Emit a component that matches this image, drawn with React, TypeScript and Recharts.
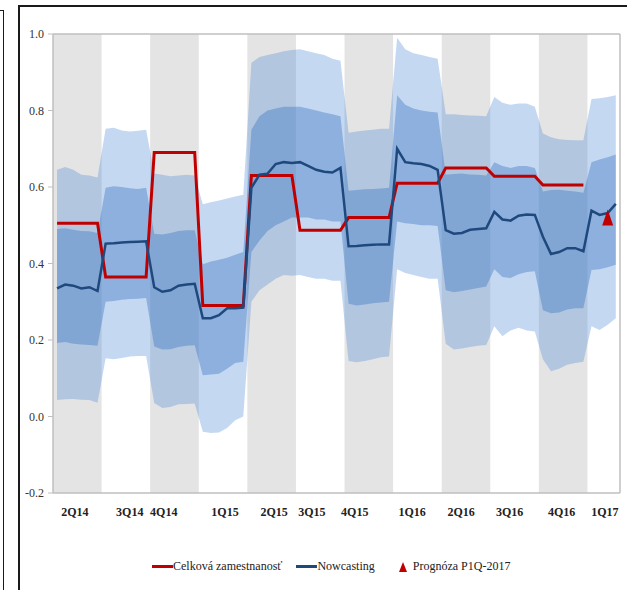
import React from "react";
import {
  Area,
  ComposedChart,
  Line,
  ReferenceArea,
  ReferenceLine,
  Scatter,
  XAxis,
  YAxis,
} from "recharts";

// quarters shown on the x axis (1Q17 is only partly covered)
const quarters = ["2Q14", "3Q14", "4Q14", "1Q15", "2Q15", "3Q15", "4Q15", "1Q16", "2Q16", "3Q16", "4Q16", "1Q17"];

// where each quarter label sits, in quarter units
const labelAt = [0.45, 1.58, 2.28, 3.54, 4.55, 5.33, 6.21, 7.39, 8.4, 9.4, 10.47, 11.36];

// Celková zamestnanosť, one value per quarter
const employment = [0.505, 0.365, 0.69, 0.29, 0.63, 0.487, 0.52, 0.61, 0.65, 0.628, 0.605, null];

// nowcast, several estimates inside each quarter
const nowcast = [
  [0.335, 0.345, 0.342, 0.335, 0.338, 0.328],
  [0.452, 0.453, 0.455, 0.456, 0.457, 0.458],
  [0.338, 0.326, 0.33, 0.342, 0.345, 0.347],
  [0.257, 0.257, 0.265, 0.283, 0.283, 0.285],
  [0.598, 0.632, 0.635, 0.66, 0.665, 0.663],
  [0.665, 0.655, 0.645, 0.64, 0.638, 0.65],
  [0.445, 0.446, 0.448, 0.449, 0.45, 0.45],
  [0.7, 0.665, 0.662, 0.66, 0.655, 0.645],
  [0.487, 0.478, 0.48, 0.488, 0.49, 0.492],
  [0.535, 0.515, 0.512, 0.525, 0.528, 0.527],
  [0.47, 0.425, 0.43, 0.44, 0.44, 0.432],
  [0.538, 0.527, 0.532, 0.556],
];

const outerHi = [
  [0.645, 0.652, 0.645, 0.632, 0.63, 0.625],
  [0.752, 0.755, 0.748, 0.745, 0.747, 0.75],
  [0.635, 0.632, 0.628, 0.63, 0.632, 0.63],
  [0.555, 0.56, 0.565, 0.57, 0.575, 0.58],
  [0.925, 0.94, 0.945, 0.95, 0.955, 0.958],
  [0.96, 0.955, 0.95, 0.945, 0.935, 0.93],
  [0.742, 0.745, 0.748, 0.75, 0.752, 0.752],
  [0.99, 0.96, 0.95, 0.945, 0.94, 0.935],
  [0.79, 0.79, 0.788, 0.787, 0.786, 0.785],
  [0.835, 0.82, 0.815, 0.818, 0.818, 0.81],
  [0.74, 0.73, 0.725, 0.723, 0.722, 0.722],
  [0.83, 0.832, 0.835, 0.84],
];

const innerHi = [
  [0.49, 0.492, 0.488, 0.485, 0.484, 0.48],
  [0.598, 0.602, 0.6, 0.597, 0.595, 0.598],
  [0.478, 0.476, 0.48, 0.485, 0.487, 0.487],
  [0.398, 0.405, 0.41, 0.415, 0.423, 0.43],
  [0.75, 0.785, 0.8, 0.805, 0.81, 0.81],
  [0.81, 0.805, 0.8, 0.795, 0.79, 0.785],
  [0.59, 0.592, 0.594, 0.595, 0.596, 0.598],
  [0.84, 0.815, 0.805, 0.8, 0.797, 0.795],
  [0.632, 0.634, 0.635, 0.633, 0.632, 0.63],
  [0.665, 0.655, 0.65, 0.655, 0.655, 0.65],
  [0.588, 0.592, 0.593, 0.59, 0.588, 0.585],
  [0.665, 0.672, 0.678, 0.685],
];

const innerLo = [
  [0.192, 0.195, 0.19, 0.188, 0.187, 0.185],
  [0.3, 0.302, 0.305, 0.307, 0.308, 0.31],
  [0.183, 0.175, 0.176, 0.182, 0.185, 0.186],
  [0.108, 0.11, 0.112, 0.125, 0.14, 0.143],
  [0.43, 0.46, 0.485, 0.5, 0.51, 0.52],
  [0.52, 0.52, 0.515, 0.515, 0.51, 0.51],
  [0.295, 0.29, 0.293, 0.296, 0.298, 0.3],
  [0.51, 0.505, 0.503, 0.5, 0.5, 0.498],
  [0.33, 0.325, 0.328, 0.332, 0.336, 0.34],
  [0.385, 0.365, 0.362, 0.372, 0.378, 0.38],
  [0.278, 0.27, 0.272, 0.28, 0.283, 0.283],
  [0.383, 0.385, 0.39, 0.397],
];

const outerLo = [
  [0.043, 0.045, 0.046, 0.044, 0.043, 0.036],
  [0.152, 0.15, 0.153, 0.157, 0.158, 0.158],
  [0.035, 0.022, 0.025, 0.032, 0.033, 0.034],
  [-0.04, -0.043, -0.042, -0.03, -0.01, 0.0],
  [0.3, 0.33, 0.345, 0.36, 0.37, 0.368],
  [0.37, 0.365, 0.36, 0.36, 0.355, 0.355],
  [0.145, 0.142, 0.145, 0.15, 0.155, 0.157],
  [0.385, 0.375, 0.37, 0.365, 0.36, 0.36],
  [0.19, 0.175, 0.178, 0.182, 0.185, 0.187],
  [0.236, 0.21, 0.225, 0.232, 0.225, 0.222],
  [0.15, 0.118, 0.125, 0.135, 0.14, 0.143],
  [0.236, 0.226, 0.24, 0.257],
];

// Prognóza P1Q-2017 (position inside 1Q17, value)
const forecast = [{ x: 11 + 2.5 / 6, prog: 0.52 }];

const yTicks = [-0.2, 0, 0.2, 0.4, 0.6, 0.8, 1.0];
const STEPS = 6;
const X_MAX = 11.67;

const rows = quarters.flatMap((_, qi) =>
  nowcast[qi].map((v, i) => ({
    x: qi + (i + 0.5) / STEPS,
    nowcast: v,
    employment: employment[qi],
    outer: [outerLo[qi][i], outerHi[qi][i]],
    inner: [innerLo[qi][i], innerHi[qi][i]],
  }))
);

const font = '"Liberation Serif", "Times New Roman", serif';

const Triangle = (props: any) => {
  const { cx, cy } = props;
  return <polygon points={`${cx},${cy - 8} ${cx - 5.5},${cy + 8} ${cx + 5.5},${cy + 8}`} fill="#c00000" />;
};

function LegendRow() {
  const item = { display: "flex", alignItems: "center", marginRight: 14 } as const;
  return (
    <div
      style={{
        position: "absolute",
        top: 559,
        left: 152,
        display: "flex",
        fontFamily: font,
        fontSize: 12,
        color: "#222",
        whiteSpace: "nowrap",
      }}
    >
      <div style={item}>
        <span style={{ width: 21, height: 3, background: "#c00000", display: "inline-block" }} />
        <span>Celková zamestnanosť</span>
      </div>
      <div style={item}>
        <span style={{ width: 21, height: 3, background: "#1f497d", display: "inline-block" }} />
        <span>Nowcasting</span>
      </div>
      <div style={{ ...item, marginLeft: 10 }}>
        <svg width={8} height={10} style={{ marginRight: 6 }}>
          <polygon points="4,0 0,10 8,10" fill="#c00000" />
        </svg>
        <span>Prognóza P1Q-2017</span>
      </div>
    </div>
  );
}

export default function App() {
  return (
    <div style={{ position: "absolute", left: 0, top: 0, width: 627, height: 590, overflow: "hidden", background: "#fff" }}>
      <div style={{ position: "absolute", left: -20, top: 10, width: 22, height: 700, border: "1.5px solid #1a1a1a" }} />
      <div style={{ position: "absolute", left: 18, top: 5, width: 700, height: 700, border: "2px solid #1a1a1a" }} />
      <div style={{ position: "absolute", left: 0, top: 0 }}>
        <ComposedChart width={627} height={590} data={rows} margin={{ top: 34, right: 7, bottom: 67, left: 0 }}>
          {quarters.map((q, qi) =>
            qi % 2 === 0 ? (
              <ReferenceArea
                key={q}
                x1={qi}
                x2={Math.min(qi + 1, X_MAX)}
                y1={-0.2}
                y2={1}
                fill="#e4e4e4"
                fillOpacity={1}
                stroke="none"
                zIndex={-10}
              />
            ) : null
          )}
          <XAxis
            type="number"
            dataKey="x"
            domain={[0, X_MAX]}
            ticks={labelAt}
            tickFormatter={(v: number) => quarters[labelAt.indexOf(v)] ?? ""}
            tickLine={false}
            tickSize={0}
            tickMargin={14}
            height={30}
            axisLine={{ stroke: "#bfbfbf", strokeWidth: 1.5 }}
            tick={{ fontFamily: font, fontSize: 12, fontWeight: 700, fill: "#222" }}
            interval={0}
          />
          <YAxis
            domain={[-0.2, 1]}
            ticks={yTicks}
            width={53}
            tickSize={5}
            tickMargin={4}
            tickFormatter={(v: number) => v.toFixed(1)}
            axisLine={{ stroke: "#bfbfbf", strokeWidth: 1.5 }}
            tickLine={{ stroke: "#bfbfbf" }}
            tick={{ fontFamily: font, fontSize: 12, fill: "#333" }}
            allowDataOverflow
          />
          <ReferenceLine y={1} stroke="#bfbfbf" strokeWidth={1.5} />
          <ReferenceLine x={X_MAX} stroke="#bfbfbf" strokeWidth={1.5} />
          <Area type="linear" dataKey="outer" fill="#548dd5" fillOpacity={0.34} stroke="none" isAnimationActive={false} />
          <Area type="linear" dataKey="inner" fill="#3a75c4" fillOpacity={0.4} stroke="none" isAnimationActive={false} />
          <Line
            type="linear"
            dataKey="employment"
            stroke="#c00000"
            strokeWidth={3}
            dot={false}
            isAnimationActive={false}
          />
          <Line
            type="linear"
            dataKey="nowcast"
            stroke="#1f497d"
            strokeWidth={2.5}
            dot={false}
            isAnimationActive={false}
          />
          <Scatter data={forecast} dataKey="prog" shape={<Triangle />} isAnimationActive={false} />
        </ComposedChart>
      </div>
      <LegendRow />
    </div>
  );
}
